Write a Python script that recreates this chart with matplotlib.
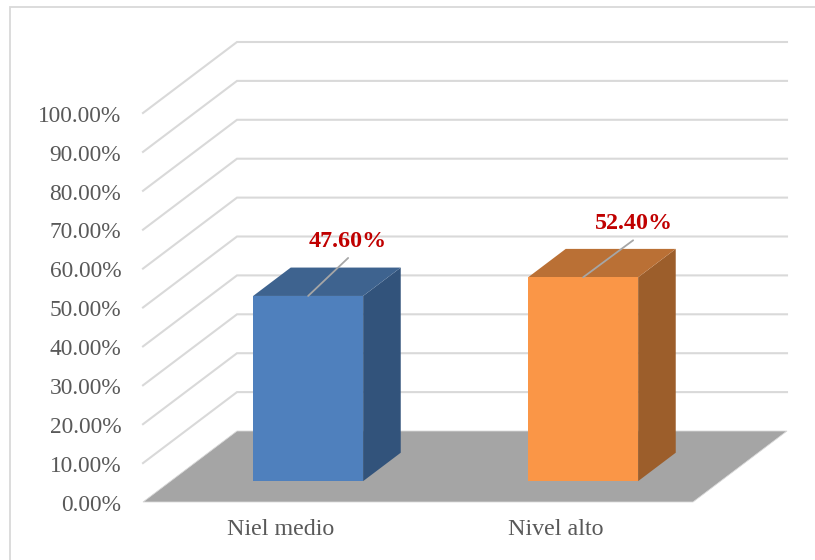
import matplotlib
matplotlib.use("Agg")
import matplotlib.pyplot as plt
from matplotlib.patches import Polygon, Rectangle
from matplotlib.transforms import ScaledTranslation

categories = ["Niel medio", "Nivel alto"]
values = [47.6, 52.4]
value_labels = ["47.60%", "52.40%"]
ticks = [0, 10, 20, 30, 40, 50, 60, 70, 80, 90, 100]
tick_labels = ["0.00%", "10.00%", "20.00%", "30.00%", "40.00%", "50.00%",
               "60.00%", "70.00%", "80.00%", "90.00%", "100.00%"]

plt.rcParams["font.family"] = ["Liberation Serif", "DejaVu Serif"]

W, H = 815, 560
# how far the back wall is shifted from the front plane, in data units
BACK_X = 94.0 / 275.0
BACK_Y = 71.0 / 3.89
BAR_W = 0.4
BAR_D0, BAR_D1 = 0.294, 0.694

front_cols = ["#4F80BD", "#FA9647"]
top_cols = ["#3E638F", "#BA7035"]
side_cols = ["#32537B", "#9C5E2B"]
label_dx = [40, 51]
label_dy = [54, 54]
line_dx = [40, 50]
line_dy = [38, 37]


def pr(x, v, d):
    # oblique projection: category x, value v, depth d (0 front, 1 back)
    return (x + BACK_X * d, v + BACK_Y * d)


fig = plt.figure(figsize=(W / 100, H / 100), dpi=100, facecolor="white")
fig.add_artist(Rectangle((9.5 / W, -0.02), (W + 20) / W, 1 - 6.5 / H + 0.02,
                         transform=fig.transFigure, fc="none", ec="#D9D9D9", lw=1.3))

ax = fig.add_axes([143 / W, (H - 502) / H, 550 / W, 389 / H])
ax.set_xlim(0, 2)
ax.set_ylim(0, 100)
ax.patch.set_visible(False)
for s in ax.spines.values():
    s.set_visible(False)

ax.set_yticks(ticks)
ax.set_yticklabels(tick_labels, fontsize=16.8, color="#595959")
ax.set_xticks([0.5, 1.5])
ax.set_xticklabels(categories, fontsize=17.3, color="#595959")
ax.tick_params(axis="y", length=0, pad=15.7)
ax.tick_params(axis="x", length=0, pad=12.5)

# nudge the value labels down a little
shift = ScaledTranslation(0, -0.75 / 100, fig.dpi_scale_trans)
for lab in ax.get_yticklabels():
    lab.set_transform(lab.get_transform() + shift)

# walls
for t in ticks[1:]:
    xs, ys = zip(pr(0, t, 0), pr(0, t, 1), pr(2, t, 1))
    ax.plot(xs, ys, color="#D9D9D9", lw=1.5, clip_on=False, zorder=1,
            solid_joinstyle="miter")

# floor
floor = [pr(0, 0, 0), pr(2, 0, 0), pr(2, 0, 1), pr(0, 0, 1)]
ax.add_patch(Polygon(floor, fc="#A5A5A5", ec="#D9D9D9", lw=0.6, clip_on=False, zorder=2))

# bars
for i, v in enumerate(values):
    x0 = i + 0.5 - BAR_W / 2
    x1 = i + 0.5 + BAR_W / 2
    front = [pr(x0, 0, BAR_D0), pr(x1, 0, BAR_D0), pr(x1, v, BAR_D0), pr(x0, v, BAR_D0)]
    top = [pr(x0, v, BAR_D0), pr(x1, v, BAR_D0), pr(x1, v, BAR_D1), pr(x0, v, BAR_D1)]
    side = [pr(x1, 0, BAR_D0), pr(x1, 0, BAR_D1), pr(x1, v, BAR_D1), pr(x1, v, BAR_D0)]
    ax.add_patch(Polygon(side, fc=side_cols[i], ec="none", clip_on=False, zorder=3))
    ax.add_patch(Polygon(top, fc=top_cols[i], ec="none", clip_on=False, zorder=3))
    ax.add_patch(Polygon(front, fc=front_cols[i], ec="none", clip_on=False, zorder=4))

    # leader line and label are placed relative to the middle of the bar top
    anchor = pr(i + 0.5, v, BAR_D0)
    ax.annotate("", xy=anchor, xytext=(line_dx[i], line_dy[i]),
                textcoords="offset pixels", zorder=5,
                arrowprops=dict(arrowstyle="-", color="#A6A6A6", lw=1.3,
                                shrinkA=0, shrinkB=0))
    ax.annotate(value_labels[i], xy=anchor, xytext=(label_dx[i], label_dy[i]),
                textcoords="offset pixels", ha="center", va="center",
                fontsize=17.3, fontweight="bold", color="#C00000", zorder=6)

fig.savefig("out.png", dpi=100)
